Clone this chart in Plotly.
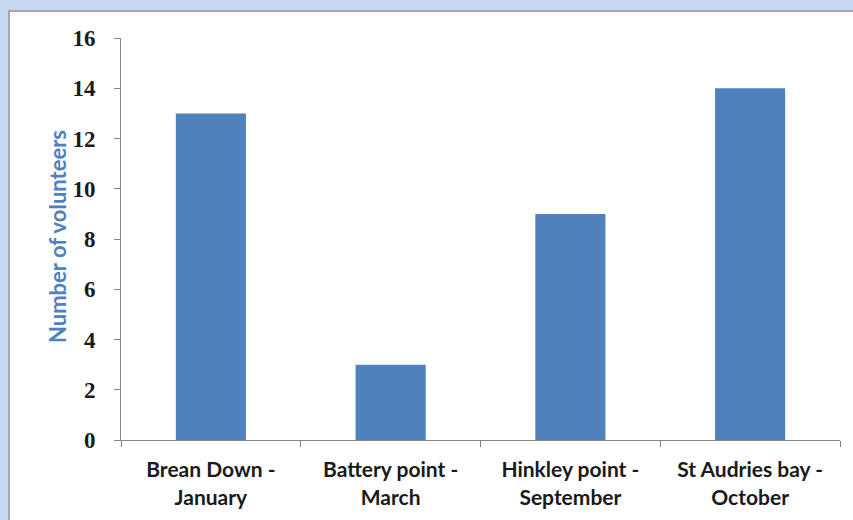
import plotly.graph_objects as go

# Volunteer turnout per beach clean
sites = ["Brean Down -<br>January", "Battery point -<br>March",
         "Hinkley point -<br>September", "St Audries bay -<br>October"]
volunteers = [13, 3, 9, 14]
y_ticks = [0, 2, 4, 6, 8, 10, 12, 14, 16]

W, H = 853, 520
L, R, T, B = 121, 13, 38, 80
pw, ph = W - L - R, H - T - B

fig = go.Figure(go.Bar(
    x=sites, y=volunteers,
    marker=dict(color="#4f81bd", line=dict(width=0)),
    width=0.39,
))

axis_grey = "#868686"
fig.update_layout(
    width=W, height=H,
    margin=dict(l=L, r=R, t=T, b=B),
    paper_bgcolor="#c6d9f1",
    plot_bgcolor="white",
    showlegend=False,
    xaxis=dict(
        showline=True, linecolor=axis_grey, linewidth=1,
        ticks="outside", tickson="boundaries", ticklen=6, tickcolor=axis_grey,
        ticklabelstandoff=11,
        tickfont=dict(family="Lato", size=21, color="#1a1a1a", weight="bold"),
        showgrid=False,
    ),
    yaxis=dict(
        range=[0, 16], tickvals=y_ticks,
        showline=True, linecolor=axis_grey, linewidth=1,
        ticks="outside", ticklen=6, tickcolor=axis_grey,
        ticklabelstandoff=14,
        tickfont=dict(family="Liberation Serif", size=23, color="#1a1a1a", weight="bold"),
        showgrid=False, zeroline=False,
    ),
    shapes=[dict(
        type="rect", xref="paper", yref="paper", layer="below",
        x0=(9 - L) / pw, x1=(W + 20 - L) / pw,
        y0=-(H + 20 - T - ph) / ph, y1=1 + (T - 11) / ph,
        fillcolor="white", line=dict(color="#a6a6a6", width=2),
    )],
    annotations=[dict(
        text="Number of volunteers", textangle=-90,
        xref="paper", yref="paper", x=(57 - L) / pw, y=(440 - 237) / ph,
        xanchor="center", yanchor="middle", showarrow=False,
        font=dict(family="Lato", size=22, color="#4f81bd", weight="bold"),
    )],
)

fig.write_html("out.html")
